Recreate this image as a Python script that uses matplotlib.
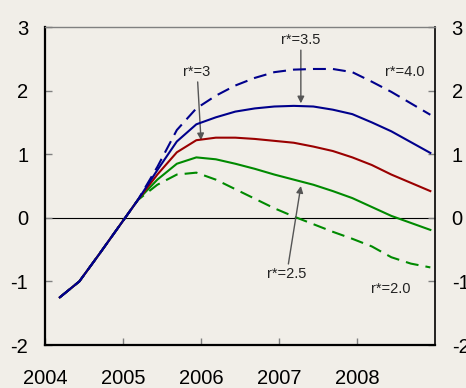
import matplotlib
matplotlib.use("Agg")
import matplotlib.pyplot as plt
from matplotlib import font_manager

# quarterly positions (2004Q1 .. 2008Q4)
x = [2004.19 + 0.25 * i for i in range(20)]

common = [-1.25, -1.0, -0.58, -0.15, 0.28]

r40 = common + [0.80, 1.38, 1.72, 1.92, 2.08, 2.20, 2.29, 2.33, 2.34, 2.34, 2.29, 2.14, 1.98, 1.80, 1.62]
r35 = common + [0.75, 1.20, 1.47, 1.58, 1.67, 1.72, 1.75, 1.76, 1.75, 1.70, 1.63, 1.50, 1.36, 1.19, 1.02]
r30 = common + [0.68, 1.03, 1.22, 1.26, 1.26, 1.24, 1.21, 1.18, 1.12, 1.05, 0.95, 0.83, 0.68, 0.55, 0.42]
r25 = common + [0.60, 0.85, 0.95, 0.92, 0.85, 0.77, 0.68, 0.60, 0.52, 0.42, 0.31, 0.17, 0.03, -0.08, -0.19]
r20 = common + [0.52, 0.68, 0.71, 0.60, 0.45, 0.30, 0.15, 0.02, -0.10, -0.22, -0.33, -0.45, -0.62, -0.72, -0.78]

year_ticks = [2004, 2005, 2006, 2007, 2008]
year_labels = ["2004", "2005", "2006", "2007", "2008"]
y_ticks = [-2, -1, 0, 1, 2, 3]

BG = "#F1EEE8"
BLUE = "#00008C"
RED = "#9A0000"
GREEN = "#008A00"

names = {f.name for f in font_manager.fontManager.ttflist}
tick_family = ["Liberation Sans Narrow"] if "Liberation Sans Narrow" in names else ["Liberation Sans"]
tick_size = 16 if tick_family[0].endswith("Narrow") else 14.5

fig = plt.figure(figsize=(4.66, 3.88), dpi=100, facecolor=BG)
ax = fig.add_axes([0.0966, 0.1108, 0.8369, 0.8196], facecolor=BG)

ax.axhline(0, color="black", lw=0.8, zorder=1)

dash = (6.2, 3.4)
ax.plot(x, r20, color=GREEN, lw=1.5, dashes=dash, zorder=2)
ax.plot(x, r25, color=GREEN, lw=1.5, zorder=3)
ax.plot(x, r30, color=RED, lw=1.5, zorder=4)
ax.plot(x, r40, color=BLUE, lw=1.5, dashes=dash, zorder=5)
ax.plot(x, r35, color=BLUE, lw=1.5, zorder=6)

ax.set_xlim(2004, 2009)
ax.set_ylim(-2, 3)

ax.set_xticks(year_ticks)
ax.set_xticklabels(year_labels, family=tick_family, fontsize=tick_size)
ax.set_yticks(y_ticks)
ax.set_yticklabels([str(v) for v in y_ticks], family=tick_family, fontsize=tick_size)

ax.tick_params(axis="x", direction="in", length=5, width=1, color="#808080", pad=17)
ax.tick_params(axis="y", direction="in", length=5, width=1, color="#808080", pad=12,
               left=True, right=True, labelleft=True, labelright=True)

for side in ["left", "bottom"]:
    ax.spines[side].set_linewidth(1.6)
    ax.spines[side].set_color("black")
ax.spines["right"].set_linewidth(1.2)
ax.spines["right"].set_color("black")
ax.spines["top"].set_linewidth(1.0)
ax.spines["top"].set_color("#808080")

afont = dict(family=["Liberation Sans"], fontsize=10.5, color="#222222", ha="center", va="center")
arrow = dict(arrowstyle="-|>", color="#555555", lw=1.0, mutation_scale=10, shrinkA=0, shrinkB=0)

ax.annotate("r*=3", xy=(2006.0, r30[7]), xytext=(2005.95, 2.29), arrowprops=arrow, **afont)
ax.annotate("r*=3.5", xy=(2007.28, 1.80), xytext=(2007.28, 2.79), arrowprops=arrow, **afont)
ax.annotate("r*=2.5", xy=(2007.28, 0.50), xytext=(2007.1, -0.88), arrowprops=arrow, **afont)
ax.text(2008.61, 2.3, "r*=4.0", **afont)
ax.text(2008.43, -1.12, "r*=2.0", **afont)

fig.savefig("out.png", dpi=100, facecolor=BG)
